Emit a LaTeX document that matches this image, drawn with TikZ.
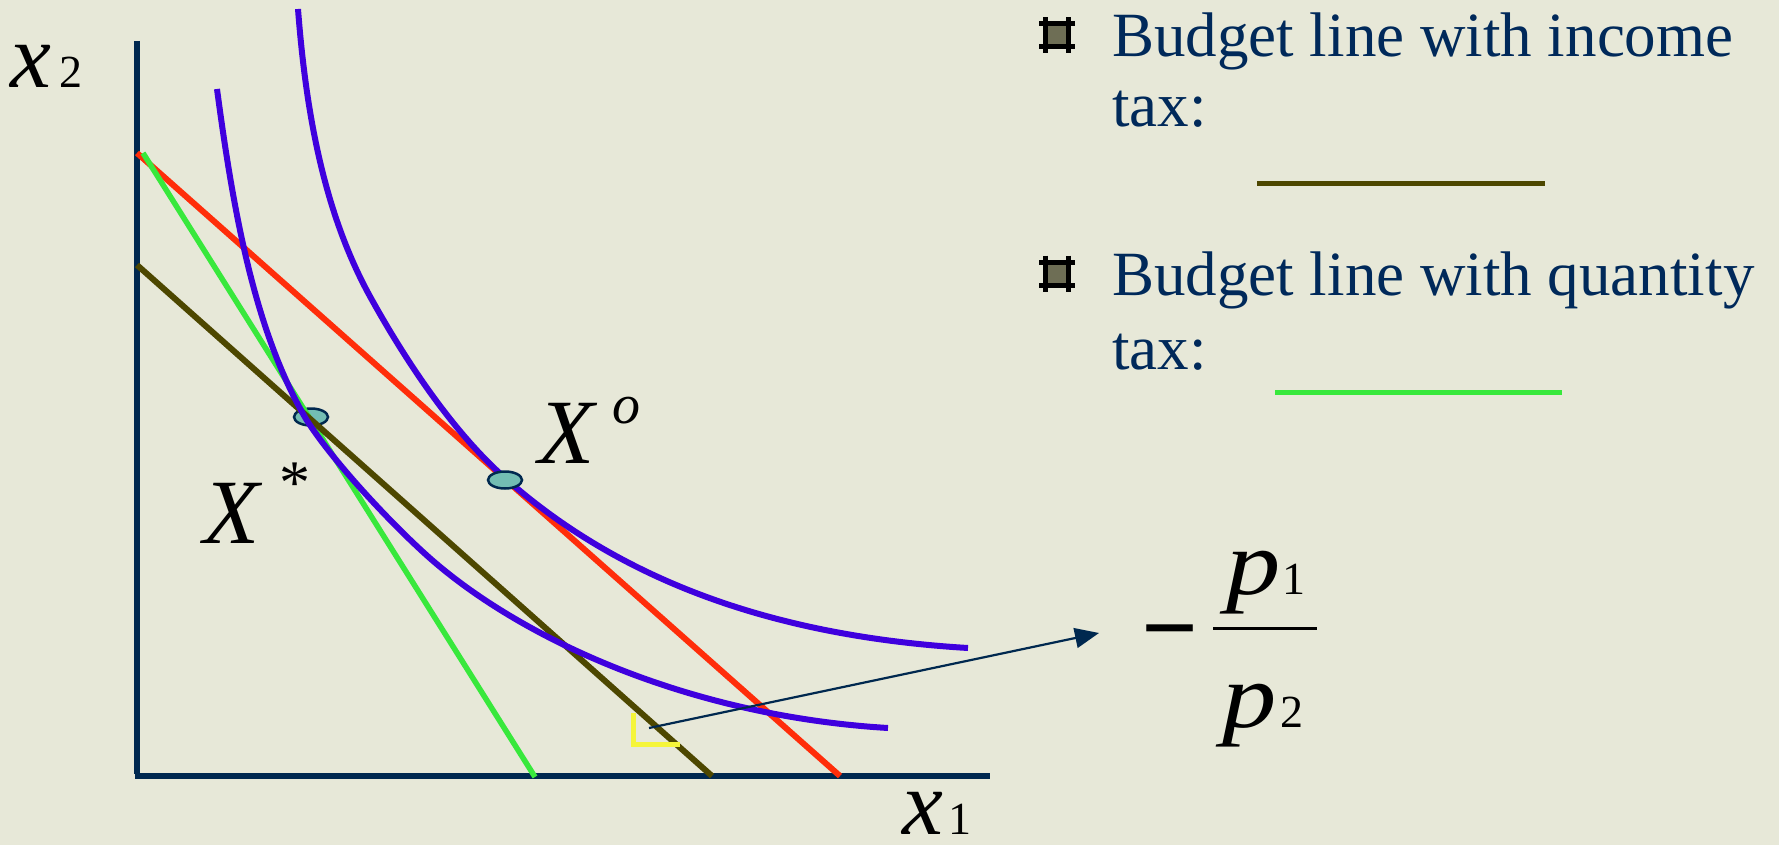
\documentclass[tikz,border=0pt]{standalone}
\usepackage{fontspec}
\setmainfont{Liberation Serif}
\usetikzlibrary{arrows.meta,shapes.geometric}
\definecolor{slidebg}{HTML}{E7E8D8}
\definecolor{axisnavy}{HTML}{00284F}
\definecolor{textnavy}{HTML}{00295A}
\definecolor{incbrown}{HTML}{4D4700}
\definecolor{qtygreen}{HTML}{38E83C}
\definecolor{origred}{HTML}{FF2D0A}
\definecolor{icblue}{HTML}{3F00DE}
\definecolor{angyellow}{HTML}{F5F53A}
\definecolor{optteal}{HTML}{73BDB3}
\definecolor{bulletgray}{HTML}{6E6E55}
\newcommand{\sdigit}[1]{{\fontsize{46}{46}\selectfont\upshape #1}}
\newcommand{\widep}{\scalebox{1.18}[1]{p}}

\begin{document}
\begin{tikzpicture}[
  x=1pt, y=-1pt,
  axis/.style={line width=5.5pt, draw=axisnavy},
  budget/.style={line width=6pt},
  indiff/.style={line width=6pt, draw=icblue},
  optpt/.style={ellipse, draw=axisnavy, line width=2.5pt, fill=optteal,
                minimum width=34pt, minimum height=17pt, inner sep=0pt},
  mathlab/.style={inner sep=0pt, anchor=base west,
                  font=\fontsize{92}{92}\selectfont\itshape},
  legend/.style={inner sep=0pt, anchor=base west, text=textnavy,
                 font=\fontsize{63}{70}\selectfont},
  slopearrow/.style={-{Triangle[length=24pt,width=20pt]}, line width=2.2pt, draw=axisnavy},
  hashbox/.pic={
    \fill[bulletgray] (-9,-9) rectangle (9,9);
    \draw[line width=5pt] (-18,-11.5) -- (18,-11.5);
    \draw[line width=5pt] (-18,11.5) -- (18,11.5);
    \draw[line width=5pt] (-11.5,-18) -- (-11.5,18);
    \draw[line width=5pt] (11.5,-18) -- (11.5,18);
  }
]
  \fill[slidebg] (0,0) rectangle (1779,845);
  \useasboundingbox (0,0) rectangle (1779,845);

  % axes
  \coordinate (orig) at (137,776);
  \coordinate (ytop) at (137,41);
  \coordinate (xend) at (990,776);
  \draw[axis] (ytop) -- ([yshift=2.5pt]orig);
  \draw[axis] ([xshift=-2.5pt]orig) -- (xend);

  % budget lines
  \coordinate (redA) at (137,153);
  \coordinate (redB) at (840,776);
  \coordinate (grnA) at (143,153);
  \coordinate (grnB) at (535,777);
  \coordinate (brnA) at (137,265);
  \coordinate (brnB) at (712,776);

  \node[optpt] (xstar) at (311,417) {};

  \draw[budget, draw=origred] (redA) -- (redB);
  \draw[budget, draw=qtygreen, line width=5.5pt] (grnA) -- (grnB);
  \draw[budget, draw=incbrown] (brnA) -- (brnB);

  % indifference curves
  \draw[indiff] (217,89) .. controls (233,209) and (254,330) .. (306,419)
    .. controls (332.6,461.4) and (394.3,527.2) .. (432,560)
    .. controls (522.5,638.7) and (688,716) .. (888,728);
  \draw[indiff] (298,9) .. controls (305.7,109) and (323,213) .. (372,300)
    .. controls (406,361) and (452.6,431.6) .. (505,478)
    .. controls (617,577.5) and (768,636) .. (968,648);

  \node[optpt] (xopt) at (505,480) {};

  % slope marker
  \draw[line width=5pt, draw=angyellow] (633,713) |- (680,744);
  \coordinate (slopept) at (649,728);
  \coordinate (arrtip) at (1099,633);
  \draw[slopearrow] (slopept) -- (arrtip);

  % labels
  \node[mathlab] (xtwo) at (10,88) {x\hspace{8pt}\sdigit{2}};
  \node[mathlab] (xone) at (902,834) {x\hspace{5pt}\sdigit{1}};
  \node[mathlab] (xstarlab) at (203,543)
    {X\hspace{20pt}\raisebox{40pt}{\fontsize{62}{62}\selectfont\upshape *}};
  \node[mathlab] (xolab) at (538,463)
    {X\hspace{18pt}\raisebox{40pt}{\fontsize{56}{56}\selectfont o}};

  % -p1/p2
  \node[inner sep=0pt, anchor=base, font=\fontsize{100}{100}\selectfont\bfseries] (minus) at (1170,661) {−};
  \coordinate (barL) at (1213,628);
  \coordinate (barR) at (1317,628);
  \draw[line width=3pt] (barL) -- (barR);
  \node[mathlab] (pone) at (1226,594) {\widep\hspace{2pt}\sdigit{1}};
  \node[mathlab] (ptwo) at (1222,727) {\widep\hspace{4pt}\sdigit{2}};

  % legend
  \pic at (1057,35.5) {hashbox};
  \node[legend] (inc1) at (1112,57) {Budget line with income};
  \node[legend] (inc2) at (1112,127) {tax:};
  \draw[line width=5pt, draw=incbrown] (1257,184) -- (1545,184);
  \pic at (1057,273.5) {hashbox};
  \node[legend] (qty1) at (1112,295) {Budget line with quantity};
  \node[legend] (qty2) at (1112,369) {tax:};
  \draw[line width=5pt, draw=qtygreen] (1275,392) -- (1562,392);
\end{tikzpicture}
\end{document}
